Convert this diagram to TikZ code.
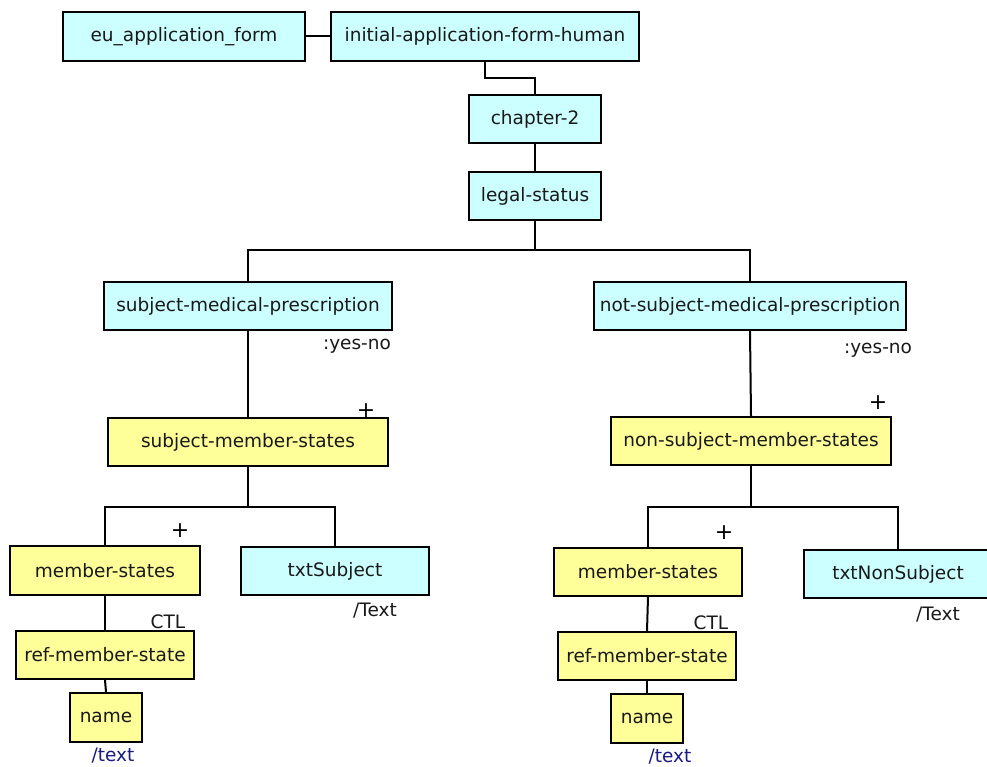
\documentclass[tikz,border=0pt]{standalone}
\usepackage{fontspec}
\setmainfont{DejaVu Sans}
\definecolor{boxcyan}{HTML}{CCFFFF}
\definecolor{boxyellow}{HTML}{FFFF99}
\definecolor{navytext}{HTML}{1A1A80}
\tikzset{
  basebox/.style={draw=black, line width=2pt, inner sep=0pt, font=\fontsize{18.5}{20}\selectfont, text=black!90},
  cbox/.style={basebox, fill=boxcyan},
  ybox/.style={basebox, fill=boxyellow},
  conn/.style={draw=black, line width=2pt},
  lbl/.style={font=\fontsize{18.5}{20}\selectfont, text=black!90, inner sep=0pt},
  plus/.style={font=\fontsize{22}{22}\selectfont, inner sep=0pt},
  tlbl/.style={lbl, text=navytext}
}
\begin{document}
\begin{tikzpicture}[x=1pt, y=-1pt]
\useasboundingbox (0,0) rectangle (987,767);
\fill[white] (0,0) rectangle (987,767);
% boxes
\node[cbox, minimum width=242pt, minimum height=49pt] (eu) at (184,36.5) {eu\_application\_form};
\node[cbox, minimum width=308pt, minimum height=49pt] (init) at (485,36.5) {initial-application-form-human};
\node[cbox, minimum width=132pt, minimum height=48pt] (ch2) at (535,119) {chapter-2};
\node[cbox, minimum width=132pt, minimum height=48pt] (legal) at (535,196) {legal-status};
\node[cbox, minimum width=288pt, minimum height=48pt] (smp) at (248,306) {subject-medical-prescription};
\node[cbox, minimum width=312pt, minimum height=48pt] (nsmp) at (750,306) {not-subject-medical-prescription};
\node[ybox, minimum width=280pt, minimum height=48pt] (sms) at (248,442) {subject-member-states};
\node[ybox, minimum width=280pt, minimum height=48pt] (nsms) at (751,441) {non-subject-member-states};
\node[ybox, minimum width=190pt, minimum height=49pt] (ms1) at (105,570.5) {member-states};
\node[cbox, minimum width=188pt, minimum height=48pt] (txts) at (335,571) {txtSubject};
\node[ybox, minimum width=178pt, minimum height=48pt] (ref1) at (105,655) {ref-member-state};
\node[ybox, minimum width=72pt, minimum height=49pt] (name1) at (106,717.5) {name};
\node[ybox, minimum width=188pt, minimum height=48pt] (ms2) at (648,572) {member-states};
\node[cbox, minimum width=188pt, minimum height=48pt] (txtns) at (898,574) {txtNonSubject};
\node[ybox, minimum width=178pt, minimum height=48pt] (ref2) at (647,656) {ref-member-state};
\node[ybox, minimum width=72pt, minimum height=49pt] (name2) at (647,718.5) {name};
% junction coordinates
\coordinate (j0) at (485,78);
\coordinate (b1) at (535,250);
\coordinate (b2) at (248,507);
\coordinate (b3) at (751,507);
% connectors
\draw[conn] (eu.east) -- (init.west);
\draw[conn] (init.south) -- (j0) -| (ch2.north);
\draw[conn] (ch2.south) -- (legal.north);
\draw[conn] (legal.south) -- (b1);
\draw[conn] (b1) -| (smp.north);
\draw[conn] (b1) -| (nsmp.north);
\draw[conn] (smp.south) -- (sms.north);
\draw[conn] (nsmp.south) -- (nsms.north);
\draw[conn] (sms.south) -- (b2);
\draw[conn] (b2) -| (ms1.north);
\draw[conn] (b2) -| (txts.north);
\draw[conn] (ms1.south) -- (ref1.north);
\draw[conn] (ref1.south) -- (name1.north);
\draw[conn] (nsms.south) -- (b3);
\draw[conn] (b3) -| (ms2.north);
\draw[conn] (b3) -| (txtns.north);
\draw[conn] (ms2.south) -- (ref2.north);
\draw[conn] (ref2.south) -- (name2.north);
% labels
\node[lbl] (yn1) at (357,346) {:yes-no};
\node[lbl] (yn2) at (878,350) {:yes-no};
\node[plus] (p1) at (366,411) {+};
\node[plus] (p2) at (878,403) {+};
\node[plus] (p3) at (180,531) {+};
\node[plus] (p4) at (724,533) {+};
\node[lbl] (ctl1) at (168,622) {CTL};
\node[lbl] (ctl2) at (711,623) {CTL};
\node[lbl] (tx1) at (375,611) {/Text};
\node[lbl] (tx2) at (938,615) {/Text};
\node[tlbl] (tt1) at (113,756) {/text};
\node[tlbl] (tt2) at (670,757) {/text};
\end{tikzpicture}
\end{document}
